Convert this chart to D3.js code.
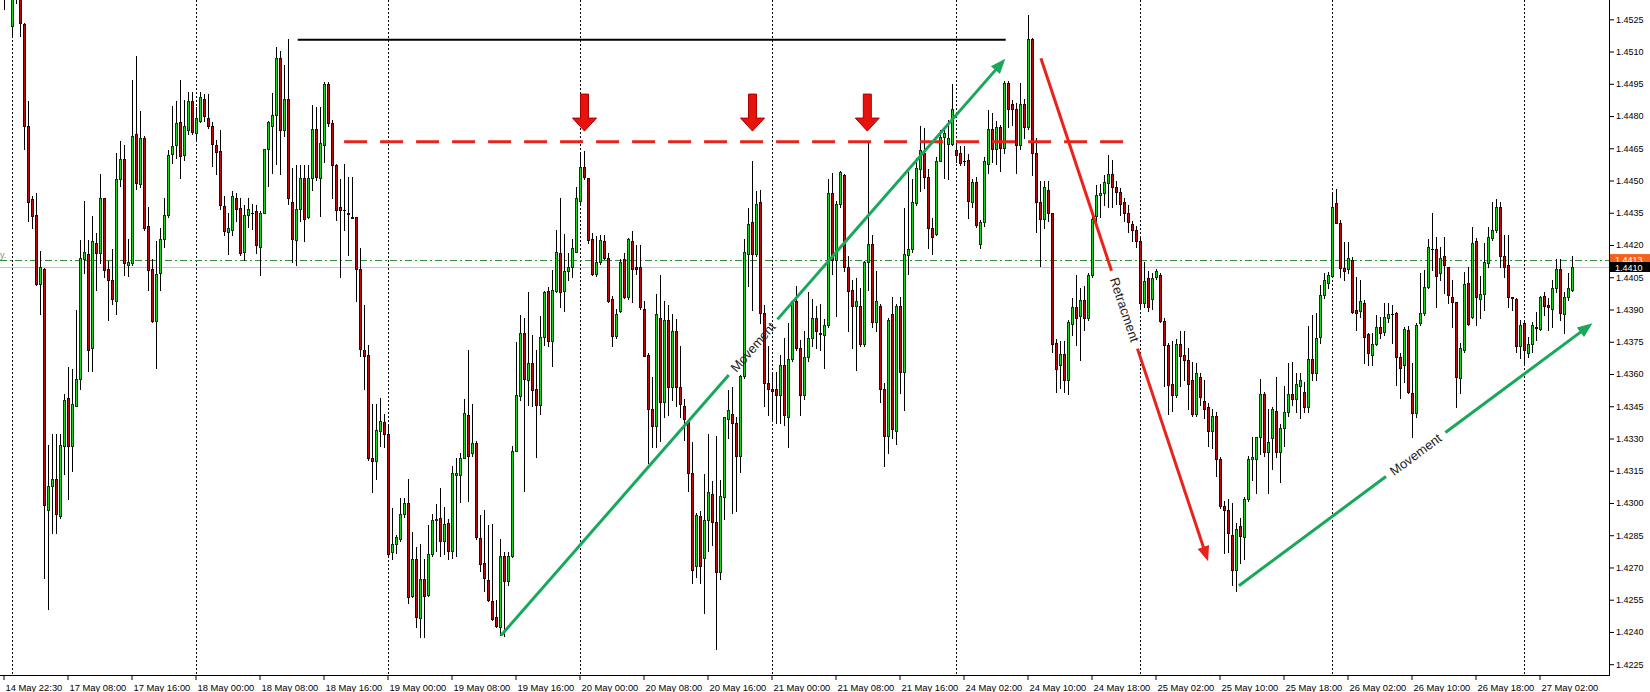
<!DOCTYPE html>
<html>
<head>
<meta charset="utf-8">
<script src="https://cdnjs.cloudflare.com/ajax/libs/d3/7.8.5/d3.min.js"></script>
<style>
  body { margin: 0; background: #fff; }
  svg { display: block; font-family: "Liberation Sans", Arial, sans-serif; }
</style>
</head>
<body>
<div id="chart"></div>
<script>
// M30 candles (index 0 = 14 May 22:30)
var opens = [
1.45480,1.45450,1.45400,1.45221,1.45370,1.45400,1.45226,1.44755,1.44412,1.44338,
1.44020,1.44090,1.42969,1.43079,1.43112,1.42941,1.43263,1.43487,1.43267,1.43451,
1.43579,1.44136,1.44160,1.43719,1.44210,1.44164,1.44417,1.44090,1.44039,1.43939,
1.44509,1.44601,1.44105,1.44118,1.44715,1.44485,1.44697,1.44289,1.44090,1.43848,
1.44072,1.44228,1.44338,1.44623,1.44664,1.44774,1.44618,1.44733,1.44871,1.44719,
1.44779,1.44881,1.44789,1.44752,1.44664,1.44638,1.44381,1.44259,1.44270,1.44421,
1.44370,1.44167,1.44338,1.44347,1.44357,1.44191,1.44351,1.44645,1.44752,1.44807,
1.45068,1.44737,1.44880,1.44399,1.44222,1.44366,1.44513,1.44329,1.44513,1.44739,
1.44513,1.44664,1.44950,1.44766,1.44570,1.44376,1.44365,1.44350,1.44331,1.44329,
1.44087,1.43713,1.43690,1.43210,1.43197,1.43336,1.43375,1.43320,1.42770,1.42809,
1.42833,1.42951,1.42998,1.42566,1.42738,1.42463,1.42647,1.42573,1.42762,1.42920,
1.42930,1.42825,1.42908,1.42778,1.43132,1.43132,1.43210,1.43410,1.43234,1.43278,
1.42837,1.42720,1.42644,1.42542,1.42471,1.42424,1.42754,1.42636,1.42754,1.43241,
1.43496,1.43792,1.43572,1.43653,1.43532,1.43454,1.43771,1.43988,1.43752,1.43988,
1.44161,1.43988,1.44078,1.44098,1.44166,1.44405,1.44562,1.44512,1.44229,1.44067,
1.44122,1.44219,1.44141,1.43949,1.43776,1.43894,1.44134,1.43957,1.44219,1.44098,
1.44098,1.43902,1.43689,1.43438,1.43359,1.43860,1.43470,1.43850,1.43540,1.43801,
1.43539,1.43451,1.43378,1.43140,1.42707,1.42940,1.42742,1.42923,1.43043,1.42912,
1.42681,1.43028,1.43390,1.43416,1.43372,1.43220,1.43591,1.44160,1.44309,1.44160,
1.44400,1.43885,1.43556,1.43530,1.43530,1.43503,1.43643,1.43399,1.43670,1.43941,
1.43722,1.43503,1.43679,1.43769,1.43862,1.43790,1.43783,1.43827,1.44440,1.44130,
1.44391,1.44527,1.44099,1.43990,1.43915,1.43915,1.43740,1.44120,1.44207,1.43840,
1.43915,1.43530,1.43311,1.43880,1.43337,1.43915,1.43609,1.44155,1.44181,1.44396,
1.44553,1.44627,1.44515,1.44277,1.44253,1.44592,1.44702,1.44672,1.44672,1.44644,
1.44627,1.44593,1.44597,1.44400,1.44492,1.44207,1.44305,1.44577,1.44738,1.44645,
1.44748,1.44650,1.44953,1.44856,1.44835,1.44664,1.44856,1.44748,1.45158,1.44629,
1.44398,1.44323,1.44458,1.44349,1.43745,1.43640,1.43693,1.43570,1.43833,1.43912,
1.43868,1.43943,1.43859,1.44060,1.44335,1.44433,1.44440,1.44489,1.44529,1.44471,
1.44445,1.44402,1.44349,1.44300,1.44270,1.44218,1.43929,1.44048,1.43947,1.44051,
1.44060,1.43845,1.43733,1.43553,1.43500,1.43740,1.43688,1.43666,1.43570,1.43413,
1.43588,1.43474,1.43448,1.43334,1.43404,1.43203,1.42984,1.42966,1.42853,1.42686,
1.42893,1.42844,1.43019,1.43203,1.43203,1.43308,1.43509,1.43238,1.43300,1.43430,
1.43238,1.43351,1.43422,1.43509,1.43483,1.43544,1.43518,1.43448,1.43668,1.43603,
1.43770,1.43967,1.44025,1.44056,1.44394,1.44304,1.44091,1.44087,1.44130,1.43898,
1.43894,1.43929,1.43784,1.43688,1.43739,1.43820,1.43797,1.43859,1.43879,1.43885,
1.43677,1.43642,1.43805,1.43513,1.43417,1.43836,1.43885,1.44006,1.44180,1.44180,
1.44068,1.44149,1.44096,1.43960,1.43936,1.43580,1.43711,1.44025,1.43867,1.44220,
1.43947,1.43972,1.44118,1.44231,1.44270,1.44378,1.44149,1.44107,1.43956,1.43947,
1.43730,1.43839,1.43696,1.43739,1.43818,1.43808,1.43963,1.43921,1.43901,1.43998,
1.44087,1.43879,1.43959,1.43991];

var highs = [
1.45520,1.45500,1.45480,1.45410,1.45460,1.45430,1.45235,1.44871,1.44430,1.44440,
1.44171,1.44095,1.43272,1.43322,1.43322,1.43322,1.43506,1.43631,1.43621,1.43897,
1.44222,1.44403,1.44222,1.44333,1.44256,1.44531,1.44420,1.44127,1.44182,1.44627,
1.44682,1.44664,1.44228,1.44967,1.45079,1.44825,1.44705,1.44375,1.44136,1.44219,
1.44278,1.44417,1.44642,1.44847,1.44871,1.44967,1.44875,1.44914,1.44914,1.44844,
1.44914,1.44904,1.44904,1.44770,1.44688,1.44733,1.44430,1.44347,1.44449,1.44443,
1.44421,1.44384,1.44421,1.44393,1.44384,1.44357,1.44645,1.44779,1.44908,1.45119,
1.45101,1.45037,1.45160,1.44559,1.44572,1.44572,1.44572,1.44572,1.44853,1.44844,
1.44840,1.44958,1.44958,1.44782,1.44578,1.44507,1.44578,1.44515,1.44515,1.44330,
1.44188,1.43921,1.43737,1.43462,1.43462,1.43488,1.43414,1.43367,1.42977,1.42852,
1.43021,1.43024,1.43113,1.42867,1.42793,1.42809,1.42738,1.42896,1.42951,1.42993,
1.43069,1.42982,1.42927,1.43171,1.43210,1.43234,1.43485,1.43710,1.43462,1.43289,
1.42946,1.42966,1.42896,1.42903,1.42550,1.42833,1.42770,1.42770,1.43265,1.43748,
1.43873,1.43862,1.43980,1.43781,1.43713,1.43870,1.43988,1.44004,1.44082,1.44271,
1.44417,1.44251,1.44161,1.44227,1.44471,1.44628,1.44637,1.44512,1.44255,1.44240,
1.44248,1.44248,1.44161,1.43965,1.43902,1.44137,1.44161,1.44232,1.44263,1.44200,
1.44200,1.43941,1.43697,1.43587,1.43972,1.44060,1.43940,1.43920,1.43880,1.43854,
1.43731,1.43486,1.43381,1.43285,1.42952,1.42961,1.43136,1.43320,1.43101,1.43311,
1.43105,1.43402,1.43524,1.43539,1.43402,1.43594,1.44230,1.44370,1.44592,1.44449,
1.44457,1.43923,1.43731,1.43600,1.43608,1.43687,1.43766,1.43836,1.43941,1.44011,
1.43757,1.43801,1.43980,1.43950,1.43915,1.43924,1.43854,1.44505,1.44536,1.44405,
1.44545,1.44531,1.44151,1.44037,1.44046,1.44002,1.44125,1.44684,1.44247,1.44081,
1.43924,1.43556,1.43862,1.43959,1.43924,1.43959,1.44370,1.44539,1.44505,1.44606,
1.44755,1.44746,1.44554,1.44326,1.44609,1.44737,1.44746,1.44781,1.44947,1.44676,
1.44659,1.44659,1.44624,1.44505,1.44515,1.44317,1.44610,1.44830,1.44816,1.44778,
1.44760,1.44962,1.44962,1.44874,1.44860,1.44953,1.44880,1.45268,1.45163,1.44699,
1.44498,1.44498,1.44498,1.44349,1.43763,1.43754,1.43754,1.43850,1.43955,1.44060,
1.43999,1.44008,1.44069,1.44331,1.44480,1.44485,1.44524,1.44620,1.44594,1.44498,
1.44463,1.44419,1.44384,1.44314,1.44288,1.44244,1.44122,1.44078,1.44069,1.44090,
1.44069,1.43859,1.43745,1.43754,1.43763,1.43798,1.43798,1.43719,1.43658,1.43652,
1.43605,1.43570,1.43465,1.43439,1.43422,1.43212,1.43010,1.43019,1.43001,1.42905,
1.42932,1.43028,1.43220,1.43308,1.43308,1.43579,1.43518,1.43439,1.43448,1.43588,
1.43369,1.43544,1.43649,1.43658,1.43605,1.43605,1.43562,1.43824,1.43874,1.43882,
1.44014,1.44068,1.44076,1.44437,1.44459,1.44316,1.44216,1.44216,1.44146,1.44053,
1.44037,1.43944,1.43789,1.43789,1.43874,1.43866,1.43929,1.43929,1.43921,1.43890,
1.43699,1.43820,1.43823,1.43649,1.43836,1.44068,1.44084,1.44226,1.44347,1.44239,
1.44192,1.44239,1.44099,1.44037,1.43936,1.43742,1.44076,1.44099,1.44285,1.44231,
1.44056,1.44208,1.44285,1.44402,1.44413,1.44402,1.44247,1.44247,1.43960,1.43952,
1.43851,1.43843,1.43773,1.43843,1.43890,1.43962,1.43983,1.43952,1.44037,1.44133,
1.44133,1.43983,1.44068,1.44149];

var lows = [
1.45400,1.45297,1.45350,1.45178,1.45325,1.45174,1.44645,1.44311,1.44278,1.44015,
1.43877,1.42653,1.42509,1.42859,1.42859,1.42932,1.43134,1.43020,1.43149,1.43451,
1.43530,1.44072,1.43612,1.43616,1.43989,1.44118,1.44053,1.43851,1.43925,1.43877,
1.44476,1.44061,1.44057,1.44105,1.44461,1.44469,1.44270,1.43989,1.43842,1.43627,
1.43989,1.44191,1.44329,1.44583,1.44605,1.44513,1.44596,1.44715,1.44715,1.44682,
1.44770,1.44779,1.44743,1.44568,1.44531,1.44366,1.44246,1.44158,1.44246,1.44311,
1.44155,1.44131,1.44283,1.44274,1.44164,1.44059,1.44347,1.44476,1.44537,1.44577,
1.44531,1.44706,1.44393,1.44123,1.44105,1.44311,1.44219,1.44324,1.44458,1.44504,
1.44333,1.44586,1.44752,1.44420,1.44318,1.44051,1.44271,1.44153,1.44324,1.43941,
1.43685,1.43532,1.43202,1.43050,1.43113,1.43265,1.43260,1.42754,1.42738,1.42767,
1.42825,1.42935,1.42534,1.42562,1.42424,1.42377,1.42377,1.42566,1.42754,1.42778,
1.42754,1.42762,1.42738,1.42746,1.42754,1.43006,1.43210,1.43009,1.43218,1.42833,
1.42683,1.42589,1.42542,1.42455,1.42421,1.42385,1.42380,1.42620,1.42750,1.43241,
1.43477,1.43056,1.43454,1.43449,1.43213,1.43414,1.43737,1.43732,1.43638,1.43980,
1.43910,1.43894,1.44035,1.44051,1.44166,1.44397,1.44507,1.44208,1.44062,1.44056,
1.44114,1.44134,1.43933,1.43732,1.43768,1.43889,1.43952,1.43949,1.43933,1.44067,
1.43902,1.43682,1.43186,1.43260,1.43260,1.43290,1.43400,1.43410,1.43480,1.43451,
1.43399,1.43294,1.43057,1.42629,1.42655,1.42629,1.42489,1.42777,1.42804,1.42322,
1.42646,1.42926,1.43302,1.42952,1.42961,1.43145,1.43580,1.44010,1.43897,1.44151,
1.43836,1.43451,1.43407,1.43380,1.43372,1.43372,1.43364,1.43259,1.43661,1.43710,
1.43407,1.43486,1.43661,1.43731,1.43722,1.43713,1.43626,1.43819,1.44064,1.43871,
1.44379,1.44081,1.43801,1.43722,1.43617,1.43731,1.43730,1.43993,1.43819,1.43801,
1.43468,1.43171,1.43232,1.43302,1.43276,1.43512,1.43434,1.44064,1.44169,1.44387,
1.44449,1.44466,1.44186,1.44160,1.44247,1.44589,1.44510,1.44505,1.44667,1.44585,
1.44571,1.44571,1.44326,1.44379,1.44282,1.44186,1.44290,1.44533,1.44586,1.44576,
1.44542,1.44630,1.44751,1.44760,1.44533,1.44647,1.44700,1.44738,1.44524,1.44261,
1.44104,1.44279,1.44314,1.43702,1.43518,1.43535,1.43518,1.43509,1.43780,1.43736,
1.43666,1.43806,1.43850,1.44051,1.44289,1.44330,1.44384,1.44375,1.44375,1.44393,
1.44340,1.44314,1.44261,1.44218,1.44192,1.43903,1.43912,1.43894,1.43903,1.44043,
1.43841,1.43544,1.43413,1.43430,1.43492,1.43544,1.43570,1.43439,1.43404,1.43404,
1.43457,1.43395,1.43264,1.43255,1.43124,1.42975,1.42765,1.42774,1.42617,1.42591,
1.42722,1.42739,1.43010,1.43107,1.43045,1.43229,1.43220,1.43045,1.43159,1.43212,
1.43098,1.43264,1.43404,1.43457,1.43422,1.43395,1.43422,1.43422,1.43572,1.43572,
1.43742,1.43952,1.43998,1.44056,1.44301,1.44053,1.44037,1.44068,1.43882,1.43805,
1.43867,1.43649,1.43642,1.43642,1.43735,1.43766,1.43781,1.43843,1.43746,1.43549,
1.43487,1.43564,1.43510,1.43308,1.43401,1.43828,1.43874,1.43998,1.44084,1.43913,
1.44037,1.43975,1.43929,1.43820,1.43448,1.43510,1.43704,1.43828,1.43859,1.43828,
1.43859,1.43898,1.44099,1.44223,1.44262,1.44099,1.44053,1.43913,1.43898,1.43704,
1.43673,1.43642,1.43680,1.43704,1.43758,1.43805,1.43874,1.43805,1.43820,1.43983,
1.43851,1.43789,1.43944,1.43988];

var closes = [
1.45450,1.45400,1.45380,1.45370,1.45400,1.45233,1.44755,1.44399,1.44333,1.44020,
1.44097,1.42991,1.43079,1.43112,1.42951,1.43272,1.43480,1.43267,1.43462,1.43579,
1.44140,1.44167,1.43712,1.44219,1.44164,1.44421,1.44086,1.44035,1.43947,1.44509,
1.44601,1.44118,1.44121,1.44706,1.44487,1.44697,1.44278,1.44086,1.43848,1.44063,
1.44228,1.44338,1.44618,1.44660,1.44767,1.44614,1.44752,1.44871,1.44724,1.44789,
1.44890,1.44798,1.44755,1.44669,1.44632,1.44388,1.44265,1.44278,1.44430,1.44366,
1.44164,1.44338,1.44366,1.44350,1.44200,1.44347,1.44645,1.44770,1.44807,1.45068,
1.44737,1.44880,1.44417,1.44228,1.44366,1.44513,1.44320,1.44513,1.44739,1.44517,
1.44675,1.44950,1.44767,1.44570,1.44365,1.44365,1.44361,1.44342,1.44326,1.44087,
1.43716,1.43686,1.43210,1.43197,1.43339,1.43383,1.43320,1.42762,1.42809,1.42841,
1.42951,1.43001,1.42562,1.42738,1.42471,1.42647,1.42566,1.42762,1.42922,1.42927,
1.42825,1.42904,1.42778,1.43140,1.43140,1.43210,1.43418,1.43218,1.43278,1.42841,
1.42715,1.42649,1.42550,1.42459,1.42427,1.42754,1.42636,1.42754,1.43241,1.43501,
1.43792,1.43579,1.43653,1.43524,1.43454,1.43771,1.43980,1.43755,1.43993,1.44169,
1.43980,1.44078,1.44098,1.44185,1.44417,1.44562,1.44515,1.44224,1.44067,1.44122,
1.44224,1.44141,1.43941,1.43776,1.43878,1.44122,1.43957,1.44229,1.44090,1.44087,
1.43910,1.43685,1.43438,1.43359,1.43878,1.43470,1.43850,1.43540,1.43800,1.43539,
1.43460,1.43390,1.43140,1.42690,1.42944,1.42707,1.42923,1.43052,1.42912,1.42681,
1.43031,1.43399,1.43434,1.43372,1.43220,1.43591,1.44169,1.44300,1.44160,1.44391,
1.43885,1.43556,1.43530,1.43520,1.43503,1.43643,1.43407,1.43670,1.43941,1.43722,
1.43503,1.43679,1.43769,1.43862,1.43801,1.43785,1.43827,1.44440,1.44130,1.44391,
1.44539,1.44099,1.43985,1.43915,1.43941,1.43740,1.44120,1.44204,1.43840,1.43941,
1.43530,1.43311,1.43853,1.43346,1.43915,1.43609,1.44160,1.44181,1.44400,1.44557,
1.44641,1.44515,1.44277,1.44238,1.44592,1.44702,1.44720,1.44697,1.44833,1.44620,
1.44580,1.44590,1.44405,1.44492,1.44295,1.44305,1.44592,1.44738,1.44645,1.44748,
1.44650,1.44953,1.44835,1.44835,1.44664,1.44856,1.44748,1.45158,1.44629,1.44398,
1.44323,1.44471,1.44349,1.43740,1.43623,1.43693,1.43570,1.43841,1.43912,1.43860,
1.43943,1.43859,1.44060,1.44323,1.44433,1.44440,1.44492,1.44529,1.44471,1.44445,
1.44393,1.44349,1.44305,1.44270,1.44218,1.43929,1.44031,1.43912,1.44048,1.44078,
1.43845,1.43733,1.43548,1.43500,1.43740,1.43684,1.43666,1.43553,1.43413,1.43605,
1.43492,1.43439,1.43334,1.43404,1.43203,1.42984,1.42966,1.42862,1.42686,1.42879,
1.42848,1.43019,1.43203,1.43215,1.43308,1.43509,1.43238,1.43285,1.43439,1.43238,
1.43351,1.43422,1.43509,1.43483,1.43553,1.43570,1.43448,1.43670,1.43603,1.43766,
1.43967,1.44037,1.44060,1.44375,1.44304,1.44091,1.44081,1.44138,1.43890,1.43885,
1.43939,1.43770,1.43696,1.43739,1.43819,1.43789,1.43867,1.43879,1.43879,1.43680,
1.43626,1.43808,1.43517,1.43417,1.43828,1.43885,1.44006,1.44189,1.44182,1.44056,
1.44138,1.44107,1.43967,1.43936,1.43587,1.43719,1.44019,1.43832,1.44211,1.43956,
1.43972,1.44122,1.44239,1.44270,1.44378,1.44149,1.44099,1.43956,1.43952,1.43730,
1.43828,1.43711,1.43739,1.43828,1.43816,1.43956,1.43916,1.43913,1.43998,1.44087,
1.43885,1.43959,1.43998,1.44100];

// time axis labels, one every 16 bars
var timeLabels = ["14 May 22:30","17 May 08:00","17 May 16:00","18 May 00:00","18 May 08:00",
  "18 May 16:00","19 May 00:00","19 May 08:00","19 May 16:00","20 May 00:00","20 May 08:00",
  "20 May 16:00","21 May 00:00","21 May 08:00","21 May 16:00","24 May 02:00","24 May 10:00",
  "24 May 18:00","25 May 02:00","25 May 10:00","25 May 18:00","26 May 02:00","26 May 10:00",
  "26 May 18:00","27 May 02:00"];
var barsPerLabel = 16;

// bars where a new day starts (period separators)
var separatorBars = [3, 49, 97, 145, 193, 239, 285, 333, 381];

var priceTicks = [1.4225,1.4240,1.4255,1.4270,1.4285,1.4300,1.4315,1.4330,1.4345,1.4360,1.4375,
  1.4390,1.4405,1.4420,1.4435,1.4450,1.4465,1.4480,1.4495,1.4510,1.4525];

var bidPrice = 1.4410;
var askPrice = 1.4413;

// drawn objects: levels, arrows, trend lines (bar index / price)
var highLevel = {bar0: 74.3, bar1: 251.3, price: 1.45155};
var resistLevel = {bar0: 85.9, bar1: 280.7, price: 1.44680};
var arrowBars = [146, 188, 216.7];
var arrowTipPrice = 1.44730;
var trendLines = [
  {bar0: 125.1, price0: 1.42383, bar1: 251.2, price1: 1.45066, color: "#19a85a", label: "Movement", gap: 74},
  {bar0: 260.1, price0: 1.45069, bar1: 301.9, price1: 1.42729, color: "#e8231c", label: "Retracment", gap: 82},
  {bar0: 309.6, price0: 1.42615, bar1: 398.0, price1: 1.43836, color: "#19a85a", label: "Movement", gap: 74}
];

var svgWidth = 1650;
var svgHeight = 692;
var plotRight = 1609;
var plotBottom = 675;

var svg = d3.select("#chart")
  .append("svg")
  .attr("width", svgWidth)
  .attr("height", svgHeight);

// Step 1: scales
// ==============================
var xScale = d3.scaleLinear()
  .domain([0, 393])
  .range([0.5, 1572.5]);

var yScale = d3.scaleLinear()
  .domain([1.4225, 1.4525])
  .range([664.2, 19.3]);

// Step 2: separators + bid/ask lines (behind candles)
// ==============================
svg.append("g")
  .selectAll("line")
  .data(separatorBars)
  .enter()
  .append("line")
  .attr("x1", d => xScale(d))
  .attr("x2", d => xScale(d))
  .attr("y1", 0)
  .attr("y2", plotBottom)
  .attr("stroke", "#000")
  .attr("stroke-width", 1)
  .attr("stroke-dasharray", "2,2");

svg.append("line")
  .attr("x1", 0).attr("x2", plotRight)
  .attr("y1", Math.round(yScale(bidPrice)) + 0.5)
  .attr("y2", Math.round(yScale(bidPrice)) + 0.5)
  .attr("stroke", "#c9c0d2")
  .attr("stroke-width", 1);

svg.append("line")
  .attr("x1", 0).attr("x2", plotRight)
  .attr("y1", Math.round(yScale(askPrice)) + 0.5)
  .attr("y2", Math.round(yScale(askPrice)) + 0.5)
  .attr("stroke", "#2f8f3a")
  .attr("stroke-width", 1)
  .attr("stroke-dasharray", "7,3,2,3");

svg.append("text")
  .attr("x", 0)
  .attr("y", Math.round(yScale(askPrice)) - 2)
  .attr("fill", "#8a8a8a")
  .style("font-size", "9px")
  .text("y.");

// Step 3: candles
// ==============================
var bars = d3.range(opens.length);
var candleGroup = svg.append("g").attr("shape-rendering", "crispEdges");

candleGroup.selectAll("line.wick")
  .data(bars)
  .enter()
  .append("line")
  .attr("class", "wick")
  .attr("x1", i => xScale(i))
  .attr("x2", i => xScale(i))
  .attr("y1", i => Math.round(yScale(highs[i])))
  .attr("y2", i => Math.round(yScale(lows[i])) + 1)
  .attr("stroke", "#000");

function bodyTop(i) { return Math.round(yScale(Math.max(opens[i], closes[i]))); }
function bodyBottom(i) { return Math.round(yScale(Math.min(opens[i], closes[i]))); }

// body: dark frame 3px wide, coloured core
candleGroup.selectAll("rect.frame")
  .data(bars.filter(i => bodyBottom(i) - bodyTop(i) >= 1))
  .enter()
  .append("rect")
  .attr("class", "frame")
  .attr("x", i => xScale(i) - 1.5)
  .attr("y", i => bodyTop(i))
  .attr("width", 3)
  .attr("height", i => bodyBottom(i) - bodyTop(i) + 1)
  .attr("fill", i => closes[i] >= opens[i] ? "#0e3a0e" : "#2e0606");

candleGroup.selectAll("rect.core")
  .data(bars.filter(i => bodyBottom(i) - bodyTop(i) >= 2))
  .enter()
  .append("rect")
  .attr("class", "core")
  .attr("x", i => xScale(i) - 0.5)
  .attr("y", i => bodyTop(i) + 1)
  .attr("width", 1)
  .attr("height", i => bodyBottom(i) - bodyTop(i) - 1)
  .attr("fill", i => closes[i] >= opens[i] ? "#1fd21f" : "#b80d0d");

candleGroup.selectAll("line.doji")
  .data(bars.filter(i => bodyBottom(i) - bodyTop(i) < 1))
  .enter()
  .append("line")
  .attr("class", "doji")
  .attr("x1", i => xScale(i) - 1.5)
  .attr("x2", i => xScale(i) + 1.5)
  .attr("y1", i => bodyTop(i) + 0.5)
  .attr("y2", i => bodyTop(i) + 0.5)
  .attr("stroke", "#000");

// Step 4: horizontal objects
// ==============================
svg.append("line")
  .attr("x1", xScale(highLevel.bar0))
  .attr("x2", xScale(highLevel.bar1))
  .attr("y1", yScale(highLevel.price))
  .attr("y2", yScale(highLevel.price))
  .attr("stroke", "#000")
  .attr("stroke-width", 2);

svg.append("line")
  .attr("x1", xScale(resistLevel.bar0))
  .attr("x2", xScale(resistLevel.bar1))
  .attr("y1", yScale(resistLevel.price))
  .attr("y2", yScale(resistLevel.price))
  .attr("stroke", "#e8231c")
  .attr("stroke-width", 3)
  .attr("stroke-dasharray", "23,13");

// down arrows above the tested highs
svg.append("g")
  .selectAll("path")
  .data(arrowBars)
  .enter()
  .append("path")
  .attr("transform", d => "translate(" + xScale(d) + "," + yScale(arrowTipPrice) + ")")
  .attr("d", "M-4,-37L4,-37L4,-13L12,-13L0,0L-12,-13L-4,-13Z")
  .attr("fill", "#e8120c")
  .attr("stroke", "#a40000")
  .attr("stroke-width", 1);

// Step 5: trend lines with labels
// ==============================
trendLines.forEach(function(t) {
  var x0 = xScale(t.bar0), y0 = yScale(t.price0);
  var x1 = xScale(t.bar1), y1 = yScale(t.price1);
  var len = Math.hypot(x1 - x0, y1 - y0);
  var ux = (x1 - x0) / len, uy = (y1 - y0) / len;
  var mx = (x0 + x1) / 2, my = (y0 + y1) / 2;
  var half = t.gap / 2;
  var head = 15;
  var angle = Math.atan2(y1 - y0, x1 - x0) * 180 / Math.PI;

  svg.append("line")
    .attr("x1", x0).attr("y1", y0)
    .attr("x2", mx - ux * half).attr("y2", my - uy * half)
    .attr("stroke", t.color).attr("stroke-width", 3);

  svg.append("line")
    .attr("x1", mx + ux * half).attr("y1", my + uy * half)
    .attr("x2", x1 - ux * head * 0.6).attr("y2", y1 - uy * head * 0.6)
    .attr("stroke", t.color).attr("stroke-width", 3);

  var bx = x1 - ux * head, by = y1 - uy * head;
  svg.append("path")
    .attr("d", "M" + x1 + "," + y1 +
      "L" + (bx - uy * 6) + "," + (by + ux * 6) +
      "L" + (bx + uy * 6) + "," + (by - ux * 6) + "Z")
    .attr("fill", t.color);

  svg.append("text")
    .attr("transform", "translate(" + mx + "," + my + ") rotate(" + angle + ")")
    .attr("text-anchor", "middle")
    .attr("dominant-baseline", "central")
    .attr("fill", "#222")
    .style("font-size", "13px")
    .text(t.label);
});

// Step 6: axes
// ==============================
svg.append("line")
  .attr("x1", plotRight + 0.5).attr("x2", plotRight + 0.5)
  .attr("y1", 0).attr("y2", plotBottom + 1)
  .attr("stroke", "#000");

svg.append("line")
  .attr("x1", 0).attr("x2", plotRight + 1)
  .attr("y1", plotBottom + 0.5).attr("y2", plotBottom + 0.5)
  .attr("stroke", "#000");

var rightAxis = d3.axisRight(yScale)
  .tickValues(priceTicks)
  .tickSize(4)
  .tickPadding(2)
  .tickFormat(d3.format(".4f"));

var yAxis = svg.append("g")
  .attr("transform", "translate(" + (plotRight + 1) + ",0)")
  .call(rightAxis);
yAxis.select(".domain").remove();
yAxis.selectAll("text")
  .style("font-family", "Liberation Sans, Arial, sans-serif")
  .style("font-size", "9px")
  .attr("fill", "#000");

var labelBars = timeLabels.map((t, i) => i * barsPerLabel);
var bottomAxis = d3.axisBottom(xScale)
  .tickValues(labelBars)
  .tickSize(4)
  .tickPadding(4)
  .tickFormat((d, i) => timeLabels[i]);

var xAxis = svg.append("g")
  .attr("transform", "translate(3," + (plotBottom + 1) + ")")
  .call(bottomAxis);
xAxis.select(".domain").remove();
xAxis.selectAll("text")
  .attr("text-anchor", "start")
  .attr("x", 1.5)
  .style("font-family", "Liberation Sans, Arial, sans-serif")
  .style("font-size", "9.4px")
  .attr("fill", "#000");

// Step 7: price labels on the axis
// ==============================
svg.append("rect")
  .attr("x", plotRight + 1).attr("y", yScale(askPrice) - 6)
  .attr("width", svgWidth - plotRight).attr("height", 12)
  .attr("fill", "#f2621e");
svg.append("text")
  .attr("x", plotRight + 6).attr("y", yScale(askPrice) + 3)
  .attr("fill", "#fff")
  .style("font-size", "9px")
  .text(askPrice.toFixed(4));

svg.append("rect")
  .attr("x", plotRight + 1).attr("y", Math.round(yScale(bidPrice)) - 5)
  .attr("width", svgWidth - plotRight).attr("height", 10)
  .attr("fill", "#000");
svg.append("text")
  .attr("x", plotRight + 6).attr("y", Math.round(yScale(bidPrice)) + 3.5)
  .attr("fill", "#fff")
  .style("font-size", "9px")
  .text(bidPrice.toFixed(4));
</script>
</body>
</html>
